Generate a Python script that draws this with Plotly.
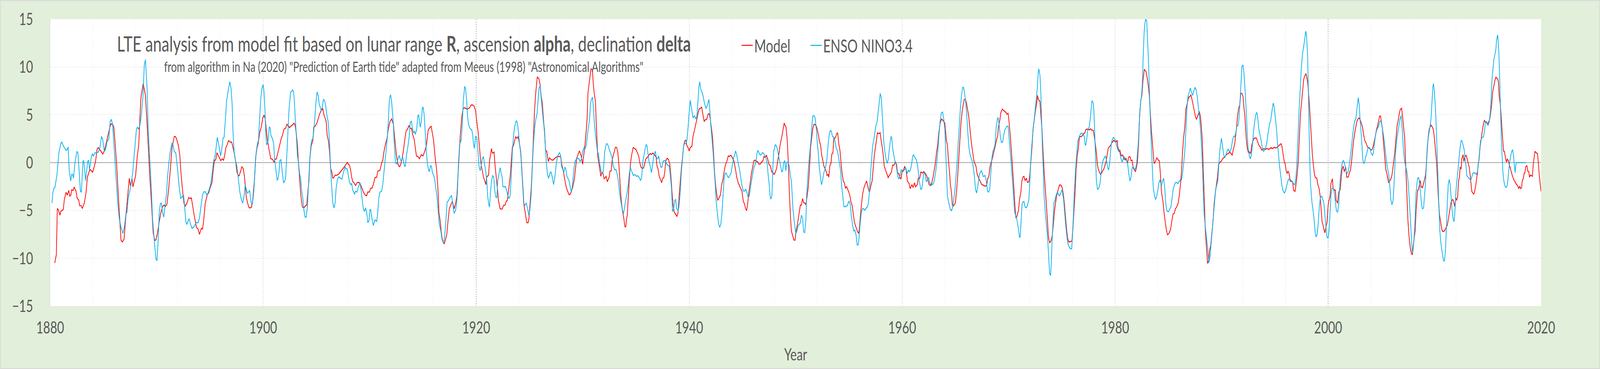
import plotly.graph_objects as go

# ---- data: (year, value) ----
model_pts = [
(1880.43,-10.5),(1880.58,-9.6),(1880.67,-4.8),(1880.76,-4.9),(1880.92,-5.5),(1880.99,-5.1),(1881.23,-4.9),(1881.33,-3.86),
(1881.49,-3.1),(1881.6,-3.4),(1881.75,-2.9),(1881.83,-3.5),(1881.94,-3.4),(1882.01,-2.85),(1882.17,-2.9),(1882.25,-2.55),
(1882.43,-3.0),(1882.53,-3.7),(1882.69,-3.95),(1882.76,-4.5),(1882.9,-4.5),(1883.02,-4.8),(1883.21,-4.2),(1883.36,-3.2),
(1883.5,-1.5),(1883.73,-0.7),(1883.99,-1.0),(1884.15,-0.37),(1884.27,0.2),(1884.4,1.38),(1884.51,1.57),(1884.67,1.34),
(1884.82,1.09),(1884.95,0.9),(1885.08,1.22),(1885.29,2.15),(1885.6,3.7),(1885.71,4.05),(1885.86,4.0),(1885.97,3.74),
(1886.1,1.96),(1886.25,-0.37),(1886.44,-4.24),(1886.65,-8.12),(1886.77,-8.3),(1886.94,-8.0),(1887.06,-6.2),(1887.25,-3.86),
(1887.43,-1.63),(1887.53,-2.4),(1887.69,-1.72),(1887.77,-2.54),(1888.02,-1.38),(1888.19,0.8),(1888.31,1.76),(1888.42,4.48),
(1888.52,6.8),(1888.73,8.26),(1888.94,7.1),(1889.15,3.12),(1889.35,-1.34),(1889.51,-4.24),(1889.67,-7.34),(1889.82,-8.12),
(1889.93,-8.1),(1890.08,-7.34),(1890.24,-6.18),(1890.4,-5.2),(1890.55,-4.6),(1890.69,-4.44),(1890.81,-4.6),(1890.97,-4.34),
(1891.13,-2.7),(1891.28,-0.76),(1891.44,1.57),(1891.65,2.73),(1891.75,2.73),(1891.85,2.54),(1892.04,1.76),(1892.17,0.8),
(1892.27,-0.95),(1892.43,-2.9),(1892.56,-4.24),(1892.69,-4.54),(1892.84,-4.24),(1893.0,-3.66),(1893.16,-3.76),(1893.26,-3.7),
(1893.36,-4.44),(1893.52,-5.5),(1893.73,-6.76),(1893.89,-6.96),(1894.02,-7.5),(1894.2,-6.86),(1894.3,-6.96),(1894.4,-6.18),
(1894.56,-4.24),(1894.77,-3.28),(1894.87,-3.2),(1895.03,-2.6),(1895.19,-2.1),(1895.29,-0.95),(1895.42,0.21),(1895.55,0.31),
(1895.66,1.03),(1895.81,0.7),(1896.02,0.2),(1896.15,0.4),(1896.28,0.25),(1896.39,0.8),(1896.5,1.57),(1896.6,1.8),
(1896.75,2.3),(1896.91,2.15),(1897.04,2.15),(1897.17,1.57),(1897.32,0.8),(1897.43,0.02),(1897.53,-0.95),(1897.64,-1.34),
(1897.74,-1.38),(1897.84,-1.05),(1898.0,-0.43),(1898.13,-0.66),(1898.23,-1.34),(1898.31,-2.3),(1898.42,-3.66),(1898.54,-4.24),
(1898.68,-4.73),(1898.78,-4.73),(1898.89,-4.67),(1898.99,-4.24),(1899.09,-2.9),(1899.2,-1.53),(1899.3,0.6),(1899.41,1.47),
(1899.54,2.05),(1899.67,3.12),(1899.82,3.7),(1899.96,4.67),(1900.08,4.96),(1900.19,4.57),(1900.29,3.5),(1900.4,2.34),
(1900.55,1.38),(1900.71,0.4),(1900.86,0.37),(1901.02,0.06),(1901.13,0.37),(1901.23,0.37),(1901.39,1.08),(1901.54,1.76),
(1901.7,2.54),(1901.8,2.83),(1901.96,3.5),(1902.11,3.6),(1902.22,4.0),(1902.35,3.86),(1902.48,3.64),(1902.58,3.8),
(1902.71,3.9),(1902.9,4.13),(1903.0,3.9),(1903.1,3.12),(1903.21,1.96),(1903.31,0.02),(1903.42,-1.72),(1903.54,-3.47),
(1903.68,-4.63),(1903.83,-4.73),(1903.99,-4.48),(1904.09,-4.44),(1904.2,-2.98),(1904.3,-1.92),(1904.38,0.4),(1904.51,1.76),
(1904.67,2.34),(1904.75,3.7),(1904.88,3.8),(1905.03,4.09),(1905.19,4.67),(1905.29,5.06),(1905.45,5.45),(1905.6,5.64),
(1905.71,4.96),(1905.81,4.67),(1905.92,4.28),(1906.0,2.93),(1906.13,2.25),(1906.23,1.18),(1906.33,-0.56),(1906.44,-0.95),
(1906.54,-1.63),(1906.65,-1.53),(1906.75,-1.3),(1906.88,-1.34),(1907.04,-1.24),(1907.17,-1.1),(1907.27,-0.95),(1907.38,-0.8),
(1907.53,-0.56),(1907.67,-0.37),(1907.79,-0.17),(1907.9,0.02),(1908.0,-0.17),(1908.1,-0.27),(1908.21,-0.76),(1908.31,-1.53),
(1908.42,-2.0),(1908.52,-2.1),(1908.68,-2.4),(1908.81,-2.1),(1908.96,-2.07),(1909.09,-2.15),(1909.25,-2.6),(1909.41,-3.08),
(1909.56,-3.37),(1909.72,-3.47),(1909.82,-3.08),(1909.98,-3.08),(1910.08,-2.7),(1910.23,-2.66),(1910.34,-2.3),(1910.5,-1.57),
(1910.66,-1.53),(1910.76,-0.9),(1910.97,-0.8),(1911.13,0.02),(1911.23,0.21),(1911.33,1.08),(1911.49,1.96),(1911.63,2.54),
(1911.75,3.5),(1911.9,4.28),(1912.06,4.57),(1912.23,4.0),(1912.35,2.54),(1912.51,0.8),(1912.65,-0.17),(1912.79,-0.43),
(1912.9,-0.27),(1913.04,0.4),(1913.17,1.28),(1913.29,2.34),(1913.42,3.3),(1913.55,3.5),(1913.69,3.86),(1913.81,3.6),
(1913.94,3.55),(1914.04,2.93),(1914.18,2.44),(1914.28,1.57),(1914.39,0.7),(1914.56,0.6),(1914.67,0.4),(1914.85,0.83),
(1915.01,0.7),(1915.17,1.18),(1915.32,1.76),(1915.5,3.41),(1915.64,3.66),(1915.77,3.8),(1915.9,2.93),(1916.0,2.34),
(1916.16,0.4),(1916.29,-0.76),(1916.42,-2.9),(1916.5,-5.2),(1916.63,-6.18),(1916.73,-7.34),(1916.85,-8.2),(1916.99,-8.5),
(1917.13,-8.0),(1917.25,-7.44),(1917.35,-6.18),(1917.48,-4.83),(1917.61,-4.44),(1917.77,-4.05),(1917.93,-4.83),(1918.08,-4.24),
(1918.19,-3.47),(1918.31,-0.95),(1918.5,2.73),(1918.66,4.86),(1918.79,5.68),(1918.92,5.74),(1919.13,5.6),(1919.26,5.64),
(1919.39,5.74),(1919.52,6.03),(1919.67,6.03),(1919.8,5.93),(1919.94,5.45),(1920.06,4.28),(1920.17,3.3),(1920.29,1.96),
(1920.38,0.7),(1920.48,-0.37),(1920.58,-0.85),(1920.69,-1.53),(1920.81,-1.92),(1920.92,-2.3),(1920.98,-1.53),(1921.16,-1.3),
(1921.26,0.21),(1921.36,0.99),(1921.44,1.47),(1921.52,0.99),(1921.68,1.09),(1921.78,-0.37),(1921.89,-1.53),(1921.99,-2.7),
(1922.09,-3.95),(1922.25,-4.83),(1922.35,-4.86),(1922.46,-4.83),(1922.56,-4.48),(1922.72,-4.44),(1922.82,-4.05),(1922.93,-3.95),
(1923.03,-3.0),(1923.19,-1.53),(1923.29,0.02),(1923.4,1.67),(1923.5,1.76),(1923.6,2.25),(1923.71,2.73),(1923.81,2.54),
(1923.94,2.7),(1924.07,1.96),(1924.18,1.18),(1924.28,-0.56),(1924.39,-2.7),(1924.49,-4.44),(1924.63,-5.4),(1924.75,-6.28),
(1924.88,-6.28),(1924.96,-5.8),(1925.06,-4.24),(1925.17,-2.7),(1925.27,-0.37),(1925.38,2.54),(1925.48,5.45),(1925.6,7.38),
(1925.74,8.97),(1925.9,8.74),(1926.0,8.16),(1926.1,7.0),(1926.21,6.22),(1926.31,4.67),(1926.42,3.12),(1926.52,1.28),
(1926.63,1.18),(1926.78,0.12),(1926.89,0.5),(1927.04,0.31),(1927.2,0.25),(1927.35,0.4),(1927.51,0.56),(1927.67,0.64),
(1927.93,0.64),(1928.04,-0.2),(1928.18,-0.85),(1928.28,-1.53),(1928.44,-2.5),(1928.59,-3.0),(1928.73,-3.37),(1928.85,-3.28),
(1929.06,-2.6),(1929.22,-1.72),(1929.32,-0.76),(1929.43,0.4),(1929.58,0.9),(1929.69,1.22),(1929.81,0.9),(1929.9,0.5),
(1930.0,-0.17),(1930.1,0.8),(1930.23,1.96),(1930.33,3.3),(1930.42,4.67),(1930.5,7.3),(1930.6,8.26),(1930.71,9.3),
(1930.78,9.8),(1930.92,9.7),(1930.99,8.35),(1931.09,7.2),(1931.2,6.41),(1931.3,3.5),(1931.41,0.8),(1931.51,0.02),
(1931.61,-0.66),(1931.7,-1.43),(1931.8,-1.05),(1931.89,-1.05),(1932.01,-1.69),(1932.11,-1.57),(1932.2,-1.43),(1932.31,-2.0),
(1932.41,-1.72),(1932.5,-1.49),(1932.56,-0.9),(1932.69,-0.85),(1932.76,0.21),(1932.86,0.7),(1932.99,1.22),(1933.07,1.6),
(1933.2,1.57),(1933.31,0.99),(1933.41,-0.37),(1933.5,-1.92),(1933.6,-3.66),(1933.73,-5.02),(1933.86,-5.8),(1933.97,-6.7),
(1934.05,-6.7),(1934.11,-5.99),(1934.19,-5.5),(1934.27,-3.86),(1934.38,-1.72),(1934.5,0.02),(1934.6,0.8),(1934.74,1.57),
(1934.9,1.47),(1935.02,1.34),(1935.16,0.99),(1935.26,0.7),(1935.36,0.02),(1935.47,-0.47),(1935.6,-0.6),(1935.72,-0.56),
(1935.83,-0.08),(1935.94,0.4),(1936.09,0.56),(1936.23,0.8),(1936.35,0.95),(1936.47,0.85),(1936.58,0.99),(1936.69,0.9),
(1936.79,0.76),(1936.9,0.56),(1936.98,-0.37),(1937.08,-0.66),(1937.19,-1.43),(1937.29,-1.72),(1937.42,-2.1),(1937.5,-1.69),
(1937.63,-1.53),(1937.71,-0.95),(1937.81,0.21),(1937.94,0.45),(1938.07,0.31),(1938.18,-0.17),(1938.28,-1.34),(1938.39,-3.08),
(1938.49,-4.44),(1938.6,-5.2),(1938.73,-5.4),(1938.85,-5.64),(1938.96,-5.2),(1939.06,-3.47),(1939.17,-1.92),(1939.27,-0.56),
(1939.38,0.6),(1939.48,1.76),(1939.58,2.25),(1939.69,2.34),(1939.79,1.76),(1939.9,1.57),(1940.0,1.22),(1940.1,1.57),
(1940.26,1.72),(1940.36,2.73),(1940.5,3.41),(1940.6,3.9),(1940.73,4.57),(1940.83,5.15),(1940.94,5.64),(1941.04,5.64),
(1941.17,5.83),(1941.3,4.96),(1941.41,4.28),(1941.51,4.48),(1941.65,4.52),(1941.77,5.06),(1941.9,5.1),(1941.98,4.57),
(1942.08,3.7),(1942.19,2.73),(1942.29,0.99),(1942.38,-0.95),(1942.48,-2.3),(1942.58,-3.28),(1942.69,-3.95),(1942.81,-3.66),
(1942.94,-3.37),(1943.04,-2.4),(1943.18,-1.72),(1943.31,-0.76),(1943.42,-0.17),(1943.54,0.12),(1943.67,0.7),(1943.78,0.65),
(1943.91,0.76),(1944.04,0.56),(1944.21,0.12),(1944.36,-0.76),(1944.47,-1.53),(1944.6,-2.11),(1944.73,-2.4),(1944.83,-2.7),
(1944.94,-2.9),(1945.09,-4.05),(1945.2,-4.34),(1945.3,-4.83),(1945.4,-5.02),(1945.5,-4.24),(1945.61,-3.08),(1945.71,-2.31),
(1945.82,-1.34),(1945.93,-0.66),(1946.08,0.21),(1946.21,0.25),(1946.34,0.12),(1946.45,0.06),(1946.55,-0.17),(1946.69,-0.14),
(1946.81,0.06),(1946.94,0.21),(1947.02,0.64),(1947.15,0.56),(1947.26,0.76),(1947.39,0.31),(1947.49,-0.17),(1947.63,-0.37),
(1947.75,-0.95),(1947.88,-1.05),(1947.96,-1.24),(1948.08,-1.05),(1948.22,-0.56),(1948.32,0.21),(1948.43,0.9),(1948.53,1.76),
(1948.67,2.54),(1948.77,3.12),(1948.85,3.7),(1948.92,4.13),(1949.0,3.9),(1949.1,3.7),(1949.21,2.34),(1949.31,0.02),
(1949.42,-3.47),(1949.52,-5.8),(1949.6,-7.15),(1949.73,-7.64),(1949.83,-8.08),(1949.94,-8.12),(1950.04,-7.15),(1950.15,-6.57),
(1950.25,-5.8),(1950.33,-5.2),(1950.44,-4.44),(1950.54,-4.44),(1950.65,-3.76),(1950.75,-4.2),(1950.88,-4.24),(1950.96,-4.4),
(1951.06,-3.66),(1951.19,-2.5),(1951.29,-0.76),(1951.4,1.57),(1951.52,2.73),(1951.6,3.5),(1951.71,4.0),(1951.81,4.0),
(1951.94,3.8),(1952.02,3.5),(1952.13,2.93),(1952.23,2.25),(1952.35,1.76),(1952.44,0.8),(1952.54,0.31),(1952.65,-0.37),
(1952.77,-0.66),(1952.88,-0.95),(1952.94,-1.34),(1953.04,-1.24),(1953.11,-1.53),(1953.22,-0.27),(1953.32,-0.08),(1953.4,0.9),
(1953.5,1.03),(1953.58,2.54),(1953.68,2.54),(1953.77,2.73),(1953.88,3.08),(1953.95,3.08),(1954.05,1.96),(1954.16,1.28),
(1954.26,0.02),(1954.36,-1.14),(1954.47,-1.92),(1954.57,-2.11),(1954.68,-2.7),(1954.78,-2.5),(1954.89,-2.8),(1954.99,-3.08),
(1955.09,-3.47),(1955.2,-4.15),(1955.3,-4.44),(1955.41,-5.4),(1955.51,-6.18),(1955.61,-6.57),(1955.72,-6.96),(1955.82,-7.25),
(1955.9,-7.38),(1955.98,-6.96),(1956.08,-5.6),(1956.19,-4.24),(1956.29,-3.28),(1956.42,-2.6),(1956.52,-2.3),(1956.66,-1.92),
(1956.76,-2.4),(1956.86,-2.9),(1956.94,-3.08),(1957.04,-2.5),(1957.18,-1.92),(1957.28,-0.56),(1957.39,0.8),(1957.49,1.57),
(1957.59,2.34),(1957.68,3.12),(1957.8,3.02),(1957.94,3.12),(1958.01,2.44),(1958.11,1.76),(1958.22,0.8),(1958.32,-0.37),
(1958.46,-0.85),(1958.58,-1.24),(1958.69,-1.57),(1958.79,-1.34),(1958.92,-1.14),(1959.0,-0.95),(1959.1,-0.27),(1959.23,-0.27),
(1959.36,0.06),(1959.47,-0.17),(1959.57,-1.1),(1959.68,-1.14),(1959.78,-1.53),(1959.89,-1.72),(1959.99,-0.9),(1960.1,-0.91),
(1960.23,-0.41),(1960.36,-0.66),(1960.5,-1.96),(1960.65,-2.17),(1960.75,-2.73),(1960.92,-2.3),(1961.02,-2.6),(1961.17,-2.11),
(1961.25,-2.54),(1961.44,-2.27),(1961.51,-1.63),(1961.65,-1.63),(1961.75,-0.99),(1961.93,-1.1),(1962.03,-0.95),(1962.19,-1.14),
(1962.34,-1.49),(1962.45,-1.92),(1962.52,-2.27),(1962.66,-2.4),(1962.76,-2.21),(1962.9,-1.53),(1963.02,-0.76),(1963.13,0.02),
(1963.23,1.08),(1963.33,1.76),(1963.44,3.12),(1963.56,4.09),(1963.7,4.57),(1963.85,4.38),(1964.01,4.13),(1964.15,2.34),
(1964.25,1.86),(1964.35,0.21),(1964.46,-1.14),(1964.53,-2.31),(1964.64,-3.18),(1964.71,-4.44),(1964.79,-4.54),(1964.9,-4.4),
(1965.0,-4.2),(1965.1,-3.08),(1965.21,-1.53),(1965.31,0.4),(1965.42,2.34),(1965.52,4.09),(1965.63,5.25),(1965.73,6.03),
(1965.83,6.6),(1965.94,6.64),(1966.04,6.22),(1966.15,5.45),(1966.25,4.86),(1966.35,3.7),(1966.51,1.96),(1966.61,1.18),
(1966.75,0.12),(1966.93,-0.37),(1967.03,-1.14),(1967.19,-1.63),(1967.31,-1.92),(1967.48,-2.31),(1967.6,-2.34),(1967.76,-2.46),
(1967.94,-2.4),(1968.02,-1.72),(1968.13,-1.49),(1968.25,-0.47),(1968.35,0.02),(1968.46,0.4),(1968.63,1.22),(1968.75,1.76),
(1968.85,2.34),(1968.96,2.73),(1969.04,3.7),(1969.17,4.44),(1969.27,5.25),(1969.4,5.6),(1969.53,5.45),(1969.64,5.35),
(1969.77,5.21),(1969.84,5.06),(1969.95,5.15),(1970.02,4.48),(1970.16,2.73),(1970.26,1.18),(1970.36,-0.37),(1970.47,-2.31),
(1970.57,-4.24),(1970.68,-5.8),(1970.78,-5.6),(1970.92,-5.02),(1971.02,-3.86),(1971.15,-3.08),(1971.23,-2.0),(1971.33,-1.53),
(1971.44,-1.43),(1971.54,-1.88),(1971.67,-1.63),(1971.77,-2.07),(1971.9,-2.0),(1971.98,-1.34),(1972.08,0.02),(1972.19,1.57),
(1972.29,3.5),(1972.4,4.48),(1972.52,5.45),(1972.63,6.22),(1972.71,7.03),(1972.79,6.6),(1972.94,6.41),(1973.02,5.06),
(1973.13,3.5),(1973.23,1.18),(1973.33,-0.95),(1973.44,-2.7),(1973.54,-4.24),(1973.65,-6.18),(1973.73,-7.73),(1973.85,-8.41),
(1973.96,-8.2),(1974.08,-7.73),(1974.19,-6.57),(1974.29,-5.2),(1974.4,-4.24),(1974.5,-3.47),(1974.64,-2.9),(1974.77,-2.34),
(1974.92,-2.36),(1975.02,-2.6),(1975.13,-3.28),(1975.23,-4.24),(1975.33,-5.6),(1975.44,-6.96),(1975.54,-7.93),(1975.65,-8.31),
(1975.78,-8.27),(1975.94,-8.2),(1976.02,-7.15),(1976.12,-5.4),(1976.23,-3.28),(1976.33,-0.76),(1976.44,0.7),(1976.54,1.47),
(1976.65,2.73),(1976.75,2.7),(1976.89,2.77),(1977.03,3.02),(1977.17,3.12),(1977.24,3.45),(1977.38,3.5),(1977.48,3.5),
(1977.58,3.41),(1977.69,3.55),(1977.79,3.41),(1977.95,3.35),(1978.03,2.83),(1978.14,1.96),(1978.24,0.99),(1978.34,-0.27),
(1978.42,-0.66),(1978.52,-0.99),(1978.63,-1.24),(1978.73,-1.1),(1978.83,-0.85),(1978.94,-0.66),(1979.04,-0.27),(1979.15,0.12),
(1979.25,0.8),(1979.35,1.47),(1979.46,1.67),(1979.56,1.76),(1979.67,2.05),(1979.77,2.19),(1979.88,2.34),(1979.98,2.19),
(1980.08,2.15),(1980.19,2.34),(1980.26,1.57),(1980.34,1.18),(1980.45,1.28),(1980.57,0.7),(1980.71,0.8),(1980.81,0.4),
(1980.95,0.31),(1981.02,0.45),(1981.16,-0.08),(1981.26,0.56),(1981.39,0.64),(1981.49,0.21),(1981.59,0.25),(1981.7,-0.56),
(1981.8,-0.76),(1981.91,-0.95),(1981.99,-0.56),(1982.09,0.02),(1982.2,1.96),(1982.3,5.06),(1982.41,6.51),(1982.51,7.0),
(1982.61,8.55),(1982.69,9.42),(1982.74,9.75),(1982.9,9.52),(1983.0,8.93),(1983.1,8.16),(1983.21,7.0),(1983.31,5.06),
(1983.42,3.12),(1983.52,1.76),(1983.66,-0.08),(1983.76,0.06),(1983.91,0.5),(1984.01,0.31),(1984.15,0.17),(1984.25,-1.14),
(1984.35,-3.08),(1984.49,-4.05),(1984.59,-5.2),(1984.7,-6.18),(1984.8,-6.96),(1984.91,-7.54),(1985.03,-7.44),(1985.19,-7.05),
(1985.29,-6.37),(1985.43,-5.4),(1985.55,-5.3),(1985.66,-4.83),(1985.76,-4.67),(1985.92,-4.24),(1986.02,-3.47),(1986.13,-2.31),
(1986.23,-0.95),(1986.33,1.18),(1986.44,2.73),(1986.54,3.7),(1986.65,5.64),(1986.78,6.22),(1986.91,6.84),(1987.01,6.9),
(1987.11,7.09),(1987.22,6.6),(1987.32,6.03),(1987.43,5.45),(1987.53,4.86),(1987.64,4.52),(1987.74,4.86),(1987.84,5.15),
(1987.9,5.35),(1988.0,4.86),(1988.1,3.7),(1988.18,2.34),(1988.26,-0.37),(1988.36,-3.86),(1988.47,-7.15),(1988.59,-9.09),
(1988.68,-10.54),(1988.78,-10.29),(1988.86,-9.19),(1988.97,-8.7),(1989.09,-7.34),(1989.2,-5.99),(1989.3,-4.24),(1989.41,-3.08),
(1989.51,-2.31),(1989.61,-1.53),(1989.72,-0.17),(1989.84,0.02),(1989.98,0.17),(1990.08,0.4),(1990.19,0.5),(1990.29,0.56),
(1990.43,0.83),(1990.55,0.9),(1990.66,0.99),(1990.76,1.09),(1990.89,0.95),(1990.99,0.76),(1991.1,1.38),(1991.23,1.96),
(1991.3,2.73),(1991.39,3.5),(1991.49,4.86),(1991.59,5.64),(1991.7,6.03),(1991.8,7.23),(1991.91,7.23),(1992.01,6.9),
(1992.08,5.83),(1992.17,5.06),(1992.24,3.9),(1992.31,2.54),(1992.4,1.57),(1992.5,1.09),(1992.6,1.14),(1992.69,0.95),
(1992.76,1.18),(1992.83,1.86),(1992.94,2.25),(1993.04,2.54),(1993.18,2.58),(1993.28,2.54),(1993.39,2.15),(1993.49,1.86),
(1993.65,1.57),(1993.75,1.34),(1993.85,1.34),(1993.96,1.47),(1994.06,1.38),(1994.27,1.47),(1994.43,1.38),(1994.64,1.57),
(1994.79,1.47),(1994.95,1.6),(1995.08,1.53),(1995.21,1.6),(1995.36,1.76),(1995.5,1.92),(1995.6,1.96),(1995.68,1.57),
(1995.78,0.8),(1995.89,0.02),(1995.96,-0.08),(1996.06,-0.85),(1996.15,-1.14),(1996.23,-0.91),(1996.33,-1.1),(1996.44,-1.92),
(1996.54,-1.96),(1996.67,-2.0),(1996.75,-2.9),(1996.9,-3.0),(1996.98,-2.31),(1997.08,-1.34),(1997.19,0.02),(1997.29,2.54),
(1997.4,5.06),(1997.5,6.22),(1997.6,7.38),(1997.71,8.74),(1997.81,9.09),(1997.92,9.28),(1998.0,8.93),(1998.1,8.16),
(1998.21,6.6),(1998.31,4.86),(1998.42,2.73),(1998.52,0.8),(1998.63,-0.37),(1998.7,-1.14),(1998.8,-1.57),(1998.94,-1.63),
(1999.04,-2.31),(1999.15,-2.7),(1999.25,-3.47),(1999.32,-4.44),(1999.43,-6.18),(1999.53,-6.57),(1999.6,-6.96),(1999.69,-7.34),
(1999.79,-6.76),(1999.9,-6.18),(2000.0,-4.44),(2000.08,-3.95),(2000.19,-3.47),(2000.26,-2.21),(2000.4,-1.69),(2000.47,-2.7),
(2000.6,-2.9),(2000.68,-2.87),(2000.75,-3.95),(2000.89,-4.24),(2000.99,-3.08),(2001.13,-2.85),(2001.2,-1.92),(2001.3,-0.76),
(2001.41,-0.37),(2001.51,-0.95),(2001.65,-0.47),(2001.75,-1.53),(2001.9,-1.49),(2002.0,-1.05),(2002.1,-0.76),(2002.19,0.02),
(2002.29,1.18),(2002.4,2.34),(2002.5,3.12),(2002.6,3.7),(2002.69,4.28),(2002.81,4.57),(2002.92,4.67),(2003.04,4.38),
(2003.13,4.05),(2003.23,3.7),(2003.33,2.93),(2003.44,2.3),(2003.54,2.11),(2003.65,1.76),(2003.75,1.57),(2003.85,1.53),
(2003.98,1.34),(2004.11,1.34),(2004.22,1.67),(2004.32,2.15),(2004.43,2.73),(2004.53,3.41),(2004.64,3.8),(2004.74,4.38),
(2004.84,4.86),(2004.92,4.86),(2005.0,4.28),(2005.1,3.5),(2005.21,1.96),(2005.31,0.6),(2005.42,-0.76),(2005.52,-1.14),
(2005.68,-2.11),(2005.78,-1.92),(2005.89,-1.72),(2005.99,-1.34),(2006.06,-0.76),(2006.17,0.21),(2006.27,1.18),(2006.38,2.54),
(2006.48,3.9),(2006.56,4.28),(2006.67,5.06),(2006.77,5.54),(2006.9,5.68),(2007.0,4.67),(2007.08,3.7),(2007.19,2.54),
(2007.27,0.02),(2007.34,-1.92),(2007.42,-4.05),(2007.5,-6.18),(2007.6,-7.73),(2007.71,-8.9),(2007.81,-9.48),(2007.92,-9.63),
(2007.99,-8.7),(2008.08,-7.93),(2008.17,-7.15),(2008.25,-5.2),(2008.34,-3.86),(2008.4,-2.89),(2008.47,-2.85),(2008.56,-2.31),
(2008.65,-1.88),(2008.74,-2.54),(2008.82,-2.54),(2008.86,-2.66),(2008.96,-2.21),(2009.05,-1.76),(2009.14,-1.34),(2009.23,-0.17),
(2009.32,1.57),(2009.4,2.73),(2009.49,3.5),(2009.66,3.93),(2009.79,3.7),(2009.89,3.41),(2009.98,2.54),(2010.07,1.38),
(2010.16,0.4),(2010.25,-1.34),(2010.33,-3.28),(2010.45,-5.4),(2010.56,-6.18),(2010.67,-6.96),(2010.75,-7.19),(2010.88,-7.19),
(2010.97,-7.05),(2011.09,-6.76),(2011.19,-6.53),(2011.28,-5.99),(2011.37,-5.31),(2011.46,-4.63),(2011.54,-4.15),(2011.68,-3.86),
(2011.76,-3.95),(2011.89,-4.59),(2011.98,-3.66),(2012.07,-3.95),(2012.16,-3.57),(2012.25,-1.92),(2012.33,-1.53),(2012.4,-0.47),
(2012.49,-0.66),(2012.55,0.4),(2012.67,0.83),(2012.75,0.12),(2012.84,0.64),(2012.96,0.76),(2013.08,0.31),(2013.17,-0.17),
(2013.25,-0.47),(2013.34,-1.34),(2013.43,-2.31),(2013.49,-3.0),(2013.58,-3.18),(2013.69,-3.28),(2013.78,-2.89),(2013.87,-2.31),
(2013.96,-1.53),(2014.02,-1.14),(2014.09,-0.17),(2014.18,0.4),(2014.26,1.57),(2014.35,2.34),(2014.44,3.02),(2014.53,3.7),
(2014.61,4.19),(2014.68,4.44),(2014.79,4.19),(2014.88,4.19),(2014.96,4.05),(2015.05,4.19),(2015.18,4.57),(2015.27,5.25),
(2015.36,6.12),(2015.45,7.38),(2015.58,8.16),(2015.67,8.64),(2015.75,8.93),(2015.84,8.84),(2015.93,8.74),(2016.0,8.35),
(2016.06,7.0),(2016.15,6.22),(2016.24,5.06),(2016.32,3.5),(2016.41,2.15),(2016.47,1.22),(2016.56,1.14),(2016.65,0.5),
(2016.74,0.06),(2016.82,0.37),(2016.91,0.21),(2017.03,-0.27),(2017.16,-0.76),(2017.29,-1.34),(2017.42,-1.76),(2017.55,-2.0),
(2017.68,-2.27),(2017.79,-2.4),(2017.9,-2.73),(2017.99,-2.46),(2018.08,-2.73),(2018.17,-2.6),(2018.23,-1.88),(2018.32,-1.69),
(2018.4,-1.14),(2018.47,-1.1),(2018.56,-0.41),(2018.67,-0.33),(2018.75,-0.91),(2018.84,-0.95),(2018.91,-1.53),(2019.0,-1.3),
(2019.09,-1.38),(2019.18,-1.43),(2019.26,-0.17),(2019.33,0.5),(2019.42,1.18),(2019.53,1.03),(2019.66,0.95),(2019.75,-0.17),
(2019.83,-1.34),(2019.92,-2.31),(2019.99,-3.0),
]

enso_pts = [
(1880.17,-4.24),(1880.24,-3.2),(1880.34,-2.7),(1880.44,-2.6),(1880.55,-1.9),(1880.66,-1.05),(1880.81,1.0),(1881.02,2.05),
(1881.1,2.15),(1881.23,1.76),(1881.39,1.47),(1881.49,1.28),(1881.6,1.38),(1881.68,1.63),(1881.8,-0.95),(1881.93,-1.92),
(1882.01,-1.24),(1882.11,-1.24),(1882.19,-1.63),(1882.32,-0.08),(1882.5,1.14),(1882.6,1.08),(1882.69,-0.37),(1882.84,-3.0),
(1882.93,-3.08),(1883.08,0.17),(1883.16,0.17),(1883.33,-1.88),(1883.52,0.12),(1883.6,0.25),(1883.7,-0.72),(1883.86,0.56),
(1883.96,0.93),(1884.06,0.7),(1884.2,1.03),(1884.35,0.99),(1884.54,1.14),(1884.67,1.57),(1884.82,2.73),(1884.93,2.44),
(1885.08,1.18),(1885.19,1.34),(1885.34,2.19),(1885.5,2.44),(1885.63,4.28),(1885.74,4.52),(1885.86,4.0),(1886.02,1.18),
(1886.18,-1.34),(1886.33,-4.05),(1886.49,-5.9),(1886.65,-6.76),(1886.83,-7.4),(1886.96,-6.76),(1887.11,-5.4),(1887.21,-5.2),
(1887.32,-3.76),(1887.53,-2.7),(1887.74,-1.14),(1887.9,1.0),(1888.02,2.54),(1888.1,3.5),(1888.19,3.7),(1888.29,3.5),
(1888.42,3.9),(1888.57,5.06),(1888.73,7.2),(1888.83,10.1),(1888.94,10.77),(1889.02,9.3),(1889.1,7.77),(1889.2,3.5),
(1889.35,0.4),(1889.48,-2.3),(1889.61,-5.8),(1889.77,-8.12),(1889.93,-10.06),(1890.03,-10.25),(1890.14,-8.12),(1890.24,-5.2),
(1890.34,-4.34),(1890.44,-4.2),(1890.55,-5.2),(1890.66,-5.7),(1890.76,-4.8),(1890.92,-3.28),(1891.02,-1.53),(1891.15,0.02),
(1891.28,1.18),(1891.42,2.0),(1891.52,1.92),(1891.65,1.18),(1891.8,0.99),(1891.9,0.02),(1892.0,-1.14),(1892.11,-2.5),
(1892.25,-3.76),(1892.38,-3.57),(1892.53,-3.47),(1892.6,-4.24),(1892.74,-6.18),(1892.84,-6.47),(1892.95,-6.08),(1893.05,-5.9),
(1893.16,-6.37),(1893.31,-6.86),(1893.47,-6.76),(1893.57,-6.57),(1893.73,-6.28),(1893.89,-6.28),(1894.02,-5.8),(1894.15,-4.63),
(1894.3,-3.47),(1894.4,-3.08),(1894.56,-3.04),(1894.72,-3.37),(1894.82,-3.18),(1894.96,-2.7),(1895.08,-2.2),(1895.19,-1.34),
(1895.34,0.12),(1895.5,0.8),(1895.69,2.64),(1895.81,2.0),(1895.92,1.18),(1896.0,0.7),(1896.1,1.28),(1896.23,2.54),
(1896.33,2.64),(1896.44,4.28),(1896.56,6.41),(1896.69,7.38),(1896.87,8.45),(1896.98,7.8),(1897.08,6.22),(1897.17,3.12),
(1897.27,1.18),(1897.38,0.31),(1897.53,-0.37),(1897.69,-1.92),(1897.81,-3.08),(1897.95,-3.86),(1898.08,-4.24),(1898.21,-3.47),
(1898.31,-2.3),(1898.42,-2.8),(1898.52,-3.18),(1898.63,-3.08),(1898.73,-2.9),(1898.83,-3.86),(1898.92,-4.44),(1899.02,-4.05),
(1899.13,-2.9),(1899.25,-0.37),(1899.35,1.18),(1899.46,1.96),(1899.56,2.34),(1899.67,4.67),(1899.77,6.6),(1899.88,7.77),
(1900.0,8.16),(1900.08,7.38),(1900.17,5.45),(1900.24,3.12),(1900.32,1.86),(1900.45,2.15),(1900.58,3.74),(1900.66,3.6),
(1900.73,2.83),(1900.86,2.54),(1900.99,1.96),(1901.07,0.4),(1901.18,-0.66),(1901.31,-1.82),(1901.39,-1.72),(1901.49,-0.95),
(1901.56,0.21),(1901.67,0.31),(1901.77,-0.76),(1901.91,-2.11),(1902.03,-1.92),(1902.11,-1.53),(1902.22,0.8),(1902.32,3.3),
(1902.43,5.64),(1902.58,7.38),(1902.69,7.48),(1902.77,7.6),(1902.85,7.4),(1902.92,6.6),(1903.0,4.86),(1903.1,3.12),
(1903.21,0.8),(1903.31,0.02),(1903.42,-1.14),(1903.52,-1.72),(1903.63,-3.08),(1903.73,-3.76),(1903.83,-5.02),(1903.94,-5.7),
(1904.04,-5.7),(1904.15,-4.63),(1904.25,-2.3),(1904.38,0.4),(1904.48,1.76),(1904.56,2.34),(1904.65,2.44),(1904.75,3.3),
(1904.85,4.67),(1904.96,6.41),(1905.06,7.38),(1905.17,7.0),(1905.27,6.03),(1905.34,5.87),(1905.45,5.45),(1905.55,5.83),
(1905.66,6.6),(1905.76,6.5),(1905.86,6.0),(1905.97,5.06),(1906.1,4.28),(1906.21,2.54),(1906.31,0.02),(1906.42,-2.3),
(1906.54,-4.24),(1906.65,-4.73),(1906.75,-4.24),(1906.85,-2.7),(1906.98,-1.72),(1907.11,-1.49),(1907.27,-1.63),(1907.4,-1.72),
(1907.53,-1.05),(1907.69,-0.47),(1907.79,-0.66),(1907.9,-0.66),(1908.0,-1.34),(1908.1,-2.0),(1908.21,-2.3),(1908.31,-2.2),
(1908.42,-2.9),(1908.57,-3.28),(1908.68,-3.0),(1908.81,-3.08),(1908.94,-2.54),(1909.09,-2.11),(1909.2,-2.9),(1909.33,-4.05),
(1909.4,-4.83),(1909.51,-5.1),(1909.61,-4.73),(1909.72,-5.2),(1909.82,-6.28),(1909.93,-6.08),(1910.03,-4.92),(1910.1,-4.92),
(1910.21,-5.8),(1910.34,-6.57),(1910.5,-5.99),(1910.66,-6.14),(1910.76,-5.2),(1910.86,-3.66),(1910.97,-3.08),(1911.13,-2.98),
(1911.23,-2.3),(1911.33,-1.14),(1911.44,0.02),(1911.54,1.18),(1911.65,2.54),(1911.75,4.28),(1911.85,6.6),(1911.96,7.1),
(1912.06,6.41),(1912.21,4.28),(1912.31,1.96),(1912.42,0.02),(1912.51,-0.14),(1912.65,0.31),(1912.77,0.76),(1912.88,0.31),
(1912.96,0.17),(1913.1,0.6),(1913.27,-0.37),(1913.35,-0.37),(1913.45,0.7),(1913.6,1.76),(1913.71,2.73),(1913.81,4.19),
(1913.92,4.32),(1914.02,3.5),(1914.13,3.12),(1914.21,3.28),(1914.29,2.96),(1914.42,3.5),(1914.52,4.86),(1914.6,5.02),
(1914.75,3.7),(1914.85,4.28),(1914.94,5.64),(1915.01,5.83),(1915.11,5.06),(1915.22,3.12),(1915.32,1.18),(1915.43,-0.17),
(1915.53,-0.76),(1915.6,-0.95),(1915.71,-0.33),(1915.79,-0.37),(1915.9,-1.05),(1916.0,-1.3),(1916.1,-1.69),(1916.21,-2.7),
(1916.31,-3.47),(1916.42,-4.83),(1916.52,-6.28),(1916.68,-7.15),(1916.81,-8.12),(1916.92,-8.31),(1916.99,-8.12),(1917.1,-6.96),
(1917.2,-5.4),(1917.27,-4.15),(1917.41,-3.95),(1917.54,-3.66),(1917.69,-3.43),(1917.77,-4.05),(1917.93,-5.3),(1918.06,-5.02),
(1918.17,-4.24),(1918.24,-3.08),(1918.34,0.02),(1918.45,1.96),(1918.6,2.38),(1918.71,4.28),(1918.79,6.41),(1918.92,7.96),
(1919.0,7.77),(1919.1,6.6),(1919.19,4.86),(1919.28,4.0),(1919.44,3.55),(1919.59,3.41),(1919.67,2.93),(1919.75,1.96),
(1919.83,1.47),(1919.94,2.73),(1920.06,2.64),(1920.17,1.18),(1920.27,-0.37),(1920.38,-0.85),(1920.48,-0.17),(1920.58,0.4),
(1920.67,0.64),(1920.77,0.02),(1920.9,-0.95),(1921.0,-1.92),(1921.08,-3.47),(1921.19,-4.44),(1921.26,-4.63),(1921.33,-3.28),
(1921.44,-1.92),(1921.54,-1.34),(1921.65,-1.53),(1921.73,-2.7),(1921.83,-3.57),(1921.94,-3.66),(1922.02,-1.92),(1922.13,-1.24),
(1922.25,-0.52),(1922.33,-1.05),(1922.44,-1.53),(1922.51,-2.5),(1922.61,-2.54),(1922.75,-2.5),(1922.88,-3.0),(1922.98,-3.47),
(1923.08,-3.76),(1923.19,-3.47),(1923.29,-1.53),(1923.4,1.18),(1923.5,2.73),(1923.6,3.7),(1923.76,4.38),(1923.86,4.19),
(1923.97,3.22),(1924.07,1.96),(1924.18,0.99),(1924.28,-0.76),(1924.39,-2.9),(1924.46,-4.24),(1924.56,-4.44),(1924.7,-4.24),
(1924.83,-4.83),(1924.94,-5.5),(1925.04,-5.02),(1925.17,-3.28),(1925.27,-0.56),(1925.38,1.96),(1925.48,3.5),(1925.6,4.52),
(1925.71,5.06),(1925.79,6.22),(1925.9,7.77),(1926.0,8.06),(1926.1,6.8),(1926.21,5.45),(1926.31,4.28),(1926.42,3.5),
(1926.5,1.57),(1926.6,-0.17),(1926.71,-1.34),(1926.81,-1.63),(1926.92,-1.14),(1927.02,-0.95),(1927.15,-1.53),(1927.27,-2.3),
(1927.41,-1.34),(1927.51,-0.17),(1927.67,0.76),(1927.83,1.03),(1927.92,0.8),(1928.02,-0.37),(1928.13,-0.76),(1928.23,-1.05),
(1928.33,-0.47),(1928.42,-0.66),(1928.52,-1.43),(1928.65,-1.72),(1928.77,-2.07),(1928.85,-2.7),(1928.94,-3.04),(1929.04,-2.4),
(1929.17,-0.76),(1929.27,0.12),(1929.38,0.31),(1929.5,0.45),(1929.64,0.4),(1929.77,0.12),(1929.9,0.4),(1930.0,1.18),
(1930.13,1.57),(1930.23,1.47),(1930.33,1.76),(1930.42,2.64),(1930.54,3.7),(1930.65,4.48),(1930.73,6.22),(1930.83,6.6),
(1930.92,6.84),(1930.99,6.03),(1931.09,4.28),(1931.2,2.93),(1931.27,2.34),(1931.38,1.18),(1931.48,0.9),(1931.58,0.02),
(1931.69,-0.66),(1931.79,-1.14),(1931.9,-1.1),(1931.98,-0.37),(1932.06,0.99),(1932.17,1.76),(1932.27,2.0),(1932.4,1.76),
(1932.52,1.28),(1932.65,0.9),(1932.76,0.5),(1932.86,-0.27),(1933.0,-0.76),(1933.13,-0.72),(1933.23,-1.14),(1933.35,-1.92),
(1933.46,-3.08),(1933.58,-4.05),(1933.71,-4.83),(1933.82,-5.37),(1933.92,-4.83),(1934.02,-4.05),(1934.15,-3.28),(1934.27,-2.4),
(1934.38,-1.14),(1934.48,-0.52),(1934.62,-0.95),(1934.75,-1.34),(1934.88,-1.24),(1935.05,-1.43),(1935.19,-1.38),(1935.31,-1.57),
(1935.44,-1.88),(1935.54,-1.53),(1935.65,0.12),(1935.75,0.8),(1935.85,1.38),(1935.96,1.86),(1936.04,1.76),(1936.15,0.8),
(1936.25,0.02),(1936.35,-0.37),(1936.46,-1.05),(1936.56,-0.33),(1936.67,0.7),(1936.82,1.18),(1936.93,0.5),(1937.03,0.4),
(1937.14,0.7),(1937.24,0.02),(1937.34,-0.47),(1937.45,-0.47),(1937.55,0.12),(1937.66,0.21),(1937.79,0.17),(1937.9,-0.17),
(1938.0,-0.27),(1938.13,-0.37),(1938.23,-1.34),(1938.34,-2.7),(1938.44,-5.12),(1938.54,-4.83),(1938.65,-3.95),(1938.73,-3.86),
(1938.83,-4.83),(1938.96,-5.02),(1939.04,-4.63),(1939.15,-3.28),(1939.27,-0.95),(1939.38,0.6),(1939.48,1.76),(1939.58,2.05),
(1939.69,1.96),(1939.79,2.34),(1939.9,3.7),(1940.0,5.25),(1940.1,6.51),(1940.23,5.64),(1940.36,4.67),(1940.5,4.9),
(1940.63,4.57),(1940.73,4.9),(1940.83,6.6),(1940.92,7.96),(1940.99,8.45),(1941.09,7.67),(1941.2,7.38),(1941.3,7.0),
(1941.44,6.22),(1941.58,5.64),(1941.72,6.03),(1941.85,6.6),(1941.93,5.64),(1942.03,3.9),(1942.14,2.54),(1942.24,1.18),
(1942.34,-0.56),(1942.45,-2.3),(1942.55,-4.24),(1942.66,-5.4),(1942.76,-6.37),(1942.86,-6.76),(1942.97,-6.47),(1943.07,-5.4),
(1943.18,-3.47),(1943.28,-1.72),(1943.39,-1.14),(1943.49,-1.1),(1943.59,-1.43),(1943.7,-1.57),(1943.8,-1.4),(1943.94,-1.05),
(1944.05,-0.3),(1944.16,0.4),(1944.26,0.8),(1944.36,1.22),(1944.47,0.8),(1944.57,0.12),(1944.68,-0.47),(1944.78,-1.05),
(1944.89,-1.92),(1944.99,-2.6),(1945.1,-2.98),(1945.2,-2.98),(1945.33,-2.79),(1945.44,-3.18),(1945.54,-3.66),(1945.65,-3.47),
(1945.75,-2.7),(1945.85,-1.92),(1945.98,-1.14),(1946.08,-0.52),(1946.21,-0.17),(1946.31,0.4),(1946.37,0.99),(1946.45,1.28),
(1946.55,1.03),(1946.66,0.8),(1946.76,0.83),(1946.86,1.03),(1946.97,0.99),(1947.1,0.76),(1947.23,0.4),(1947.33,-0.17),
(1947.44,-1.53),(1947.52,-2.3),(1947.6,-3.47),(1947.67,-3.82),(1947.77,-3.47),(1947.85,-0.76),(1947.94,1.18),(1948.01,1.57),
(1948.08,1.86),(1948.19,1.76),(1948.29,1.38),(1948.38,0.8),(1948.48,0.31),(1948.58,-0.27),(1948.69,-0.95),(1948.77,-0.91),
(1948.88,0.02),(1948.98,0.21),(1949.08,-0.85),(1949.16,0.02),(1949.29,0.06),(1949.4,-0.37),(1949.5,-1.34),(1949.6,-1.92),
(1949.68,-3.47),(1949.75,-4.83),(1949.85,-5.99),(1949.96,-6.96),(1950.02,-7.44),(1950.13,-7.11),(1950.23,-6.57),(1950.33,-6.47),
(1950.44,-6.28),(1950.54,-5.5),(1950.65,-5.8),(1950.75,-7.25),(1950.85,-7.31),(1950.96,-5.99),(1951.03,-3.47),(1951.14,-1.53),
(1951.24,0.02),(1951.34,1.18),(1951.45,2.54),(1951.55,4.28),(1951.63,4.9),(1951.73,4.9),(1951.83,4.67),(1951.94,3.5),
(1952.04,1.96),(1952.13,0.99),(1952.21,-0.37),(1952.31,-1.34),(1952.42,-2.31),(1952.52,-1.92),(1952.63,-1.14),(1952.73,-0.76),
(1952.83,-0.37),(1952.94,0.4),(1953.04,1.76),(1953.15,2.93),(1953.25,3.35),(1953.35,3.28),(1953.46,2.73),(1953.58,2.64),
(1953.69,2.25),(1953.79,1.57),(1953.9,1.28),(1954.0,0.8),(1954.1,0.02),(1954.21,-0.76),(1954.31,-2.31),(1954.42,-3.47),
(1954.52,-4.54),(1954.63,-4.63),(1954.73,-4.54),(1954.83,-4.54),(1954.94,-4.24),(1955.02,-4.0),(1955.13,-4.44),(1955.23,-5.6),
(1955.35,-6.57),(1955.46,-7.15),(1955.56,-7.05),(1955.67,-7.54),(1955.77,-8.6),(1955.88,-8.6),(1955.96,-7.73),(1956.06,-6.37),
(1956.17,-5.2),(1956.27,-4.83),(1956.4,-4.83),(1956.5,-4.98),(1956.6,-4.79),(1956.73,-4.63),(1956.83,-4.24),(1956.94,-2.9),
(1957.02,-1.34),(1957.13,0.4),(1957.23,1.76),(1957.33,2.34),(1957.44,3.12),(1957.54,3.9),(1957.65,4.28),(1957.75,5.25),
(1957.85,6.22),(1957.94,7.23),(1958.04,6.8),(1958.11,5.45),(1958.19,3.7),(1958.29,1.96),(1958.4,0.99),(1958.5,0.31),
(1958.6,-0.08),(1958.71,0.4),(1958.81,1.57),(1958.95,2.7),(1959.02,2.64),(1959.1,1.57),(1959.21,0.8),(1959.31,0.21),
(1959.4,0.02),(1959.5,-0.76),(1959.6,-1.53),(1959.71,-1.69),(1959.81,-1.34),(1959.88,-0.8),(1960.0,-0.76),(1960.1,-0.9),
(1960.21,-0.76),(1960.33,-0.52),(1960.47,-1.14),(1960.57,-0.8),(1960.68,-0.95),(1960.78,-0.76),(1960.89,-0.17),(1960.99,0.7),
(1961.09,0.8),(1961.2,0.5),(1961.33,0.31),(1961.46,-0.37),(1961.56,-1.53),(1961.67,-2.31),(1961.75,-2.79),(1961.85,-2.73),
(1961.93,-1.92),(1962.0,-1.34),(1962.08,-1.05),(1962.17,-1.24),(1962.27,-2.0),(1962.4,-1.76),(1962.5,-1.57),(1962.6,-2.11),
(1962.71,-2.4),(1962.83,-2.27),(1962.94,-2.21),(1963.04,-1.72),(1963.15,-0.95),(1963.25,0.02),(1963.35,1.18),(1963.46,2.93),
(1963.56,4.28),(1963.67,5.15),(1963.8,5.29),(1963.91,4.48),(1964.01,3.5),(1964.08,1.57),(1964.17,-1.34),(1964.25,-3.47),
(1964.33,-3.95),(1964.43,-4.44),(1964.53,-4.92),(1964.64,-5.02),(1964.74,-4.63),(1964.84,-3.86),(1964.95,-2.9),(1965.05,-1.53),
(1965.16,0.02),(1965.26,1.96),(1965.38,4.28),(1965.49,6.03),(1965.59,7.19),(1965.69,7.87),(1965.76,7.87),(1965.85,7.38),
(1965.96,6.41),(1966.06,5.06),(1966.17,3.12),(1966.27,1.57),(1966.38,0.8),(1966.51,0.4),(1966.61,0.02),(1966.69,-0.56),
(1966.79,-1.53),(1966.88,-2.7),(1966.98,-3.18),(1967.08,-2.7),(1967.19,-1.72),(1967.29,-1.14),(1967.42,-0.85),(1967.52,-1.05),
(1967.6,-1.43),(1967.69,-1.43),(1967.79,-1.34),(1967.9,-1.92),(1968.02,-3.0),(1968.13,-3.08),(1968.23,-2.7),(1968.33,-1.14),
(1968.42,0.4),(1968.52,1.18),(1968.63,1.47),(1968.73,1.96),(1968.83,3.7),(1968.94,4.57),(1969.01,4.71),(1969.11,3.9),
(1969.22,2.73),(1969.32,2.11),(1969.43,2.15),(1969.53,2.83),(1969.64,3.41),(1969.74,3.6),(1969.84,3.8),(1969.95,3.8),
(1970.05,2.54),(1970.16,0.99),(1970.26,-0.37),(1970.36,-1.92),(1970.47,-3.47),(1970.57,-5.2),(1970.68,-5.6),(1970.78,-5.99),
(1970.92,-6.96),(1971.02,-7.83),(1971.09,-7.73),(1971.17,-6.18),(1971.25,-4.44),(1971.33,-4.15),(1971.44,-4.05),(1971.54,-4.63),
(1971.65,-4.73),(1971.77,-4.44),(1971.9,-3.86),(1971.98,-2.31),(1972.05,-0.37),(1972.16,1.57),(1972.27,3.12),(1972.38,4.28),
(1972.48,5.45),(1972.59,6.6),(1972.69,7.77),(1972.77,9.32),(1972.83,9.8),(1972.94,9.13),(1973.02,7.38),(1973.1,4.28),
(1973.17,1.57),(1973.25,-0.76),(1973.33,-3.47),(1973.44,-5.2),(1973.54,-6.37),(1973.65,-7.73),(1973.75,-9.67),(1973.85,-11.6),
(1973.94,-11.8),(1974.01,-10.45),(1974.08,-8.12),(1974.17,-5.8),(1974.25,-4.24),(1974.32,-4.05),(1974.42,-3.57),(1974.53,-3.18),
(1974.63,-3.18),(1974.74,-3.47),(1974.84,-3.37),(1974.95,-2.98),(1975.02,-2.85),(1975.16,-3.86),(1975.26,-5.2),(1975.36,-6.57),
(1975.47,-7.73),(1975.57,-8.5),(1975.68,-8.8),(1975.78,-9.0),(1975.92,-9.0),(1975.99,-7.73),(1976.07,-5.8),(1976.16,-3.28),
(1976.26,-1.14),(1976.36,0.4),(1976.44,1.57),(1976.51,2.34),(1976.65,2.73),(1976.75,3.02),(1976.89,3.08),(1977.01,2.93),
(1977.1,2.73),(1977.17,1.96),(1977.24,1.8),(1977.32,2.34),(1977.41,3.3),(1977.51,3.6),(1977.58,3.8),(1977.66,4.57),
(1977.74,5.64),(1977.82,6.45),(1977.93,6.32),(1978.0,5.45),(1978.07,3.5),(1978.16,0.6),(1978.24,-1.92),(1978.34,-2.79),
(1978.45,-2.7),(1978.57,-2.21),(1978.68,-1.14),(1978.78,-0.17),(1978.89,0.31),(1979.01,0.56),(1979.09,0.7),(1979.2,0.12),
(1979.3,-0.56),(1979.39,-0.76),(1979.49,0.02),(1979.56,0.99),(1979.64,1.96),(1979.74,2.44),(1979.84,2.64),(1979.93,2.54),
(1980.03,2.34),(1980.14,1.76),(1980.24,1.38),(1980.34,1.47),(1980.45,0.99),(1980.55,0.4),(1980.66,0.06),(1980.76,0.4),
(1980.86,0.6),(1980.97,0.31),(1981.07,0.21),(1981.18,-0.17),(1981.28,-1.14),(1981.39,-1.92),(1981.49,-1.53),(1981.59,-0.56),
(1981.7,-0.47),(1981.8,-0.66),(1981.91,-0.66),(1982.01,-0.17),(1982.09,0.8),(1982.17,1.96),(1982.27,4.28),(1982.38,6.22),
(1982.48,7.0),(1982.55,8.16),(1982.64,11.26),(1982.72,13.58),(1982.79,14.55),(1982.88,15.0),(1982.97,14.75),(1983.05,12.8),
(1983.14,10.3),(1983.21,7.77),(1983.28,5.45),(1983.36,2.73),(1983.45,0.6),(1983.52,-1.34),(1983.59,-2.7),(1983.7,-3.47),
(1983.8,-3.86),(1983.91,-3.47),(1984.01,-2.9),(1984.11,-2.11),(1984.2,-1.82),(1984.28,-2.11),(1984.35,-2.4),(1984.46,-1.92),
(1984.55,-1.63),(1984.66,-2.7),(1984.74,-4.05),(1984.82,-4.92),(1984.93,-5.12),(1985.03,-5.12),(1985.14,-4.83),(1985.24,-4.63),
(1985.35,-3.66),(1985.45,-2.79),(1985.57,-2.31),(1985.68,-2.07),(1985.78,-2.07),(1985.89,-2.21),(1985.99,-2.0),(1986.13,-1.82),
(1986.23,-1.82),(1986.33,-1.14),(1986.44,0.02),(1986.54,1.18),(1986.65,3.5),(1986.75,5.83),(1986.85,7.0),(1986.96,7.38),
(1987.06,7.8),(1987.16,7.38),(1987.27,7.03),(1987.38,7.48),(1987.51,7.87),(1987.61,7.58),(1987.72,6.8),(1987.82,5.83),
(1987.93,4.67),(1988.03,3.31),(1988.14,1.18),(1988.21,-0.76),(1988.28,-3.28),(1988.36,-5.4),(1988.47,-6.76),(1988.57,-7.73),
(1988.68,-8.9),(1988.8,-10.45),(1988.91,-9.86),(1989.01,-8.5),(1989.11,-7.15),(1989.22,-5.8),(1989.32,-4.24),(1989.43,-2.9),
(1989.53,-2.4),(1989.64,-1.92),(1989.72,-0.56),(1989.82,1.18),(1989.9,1.96),(1989.98,2.54),(1990.08,1.76),(1990.19,0.8),
(1990.29,0.56),(1990.4,0.8),(1990.5,1.14),(1990.6,1.41),(1990.71,1.18),(1990.81,1.2),(1990.92,1.57),(1991.02,2.34),
(1991.13,2.73),(1991.23,2.73),(1991.33,3.12),(1991.44,3.8),(1991.54,3.9),(1991.61,4.38),(1991.7,5.83),(1991.8,7.77),
(1991.9,10.03),(1992.01,10.2),(1992.1,9.32),(1992.21,7.38),(1992.31,5.45),(1992.4,3.12),(1992.48,1.57),(1992.58,0.8),
(1992.69,0.4),(1992.79,0.8),(1992.9,1.96),(1993.0,3.3),(1993.1,4.28),(1993.21,5.06),(1993.31,5.25),(1993.39,4.67),
(1993.49,3.5),(1993.6,2.93),(1993.7,2.34),(1993.81,1.57),(1993.92,1.18),(1994.02,1.28),(1994.13,1.57),(1994.23,1.96),
(1994.33,2.83),(1994.49,4.0),(1994.6,4.38),(1994.71,5.25),(1994.84,6.22),(1994.94,5.83),(1995.04,4.67),(1995.15,3.5),
(1995.25,1.96),(1995.35,0.8),(1995.44,-0.37),(1995.55,-1.34),(1995.65,-2.31),(1995.75,-2.9),(1995.89,-3.18),(1995.99,-2.98),
(1996.09,-2.5),(1996.2,-2.0),(1996.3,-1.72),(1996.44,-1.76),(1996.56,-1.92),(1996.67,-2.0),(1996.75,-2.21),(1996.87,-2.31),
(1996.96,-1.72),(1997.03,-0.76),(1997.1,0.8),(1997.19,3.12),(1997.27,5.45),(1997.38,7.58),(1997.48,9.9),(1997.58,11.26),
(1997.69,12.03),(1997.79,12.8),(1997.9,13.74),(1997.97,13.3),(1998.07,11.26),(1998.15,7.38),(1998.21,3.5),(1998.28,0.02),
(1998.35,-2.31),(1998.49,-4.24),(1998.59,-5.02),(1998.7,-6.18),(1998.77,-7.15),(1998.85,-7.73),(1998.94,-7.64),(1999.01,-7.15),
(1999.08,-6.18),(1999.17,-4.63),(1999.27,-3.66),(1999.4,-3.51),(1999.5,-3.86),(1999.6,-4.24),(1999.69,-5.4),(1999.79,-6.76),
(1999.88,-7.73),(2000.0,-7.93),(2000.1,-6.96),(2000.19,-5.02),(2000.26,-3.47),(2000.36,-2.7),(2000.47,-2.66),(2000.57,-3.08),
(2000.68,-4.05),(2000.78,-5.02),(2000.89,-5.17),(2000.99,-4.44),(2001.06,-3.08),(2001.15,-1.53),(2001.25,-0.56),(2001.35,0.12),
(2001.46,0.21),(2001.56,-0.17),(2001.67,-0.85),(2001.77,-1.14),(2001.88,-0.95),(2001.98,-0.37),(2002.08,0.6),(2002.19,1.57),
(2002.29,2.73),(2002.4,3.7),(2002.5,4.38),(2002.6,4.57),(2002.69,5.45),(2002.76,6.22),(2002.83,6.8),(2002.92,6.03),
(2003.0,4.48),(2003.1,3.12),(2003.18,1.57),(2003.25,0.4),(2003.33,-0.08),(2003.42,0.02),(2003.52,0.6),(2003.63,0.99),
(2003.73,1.47),(2003.83,1.6),(2003.94,1.47),(2004.04,0.99),(2004.15,0.76),(2004.25,0.99),(2004.32,1.76),(2004.43,2.73),
(2004.53,3.3),(2004.64,3.6),(2004.74,3.8),(2004.84,4.28),(2004.95,4.38),(2005.05,3.9),(2005.16,3.12),(2005.26,2.34),
(2005.36,1.38),(2005.47,0.21),(2005.57,-0.56),(2005.68,-1.14),(2005.78,-2.31),(2005.89,-3.86),(2005.99,-4.4),(2006.09,-4.05),
(2006.17,-2.7),(2006.25,-0.95),(2006.33,0.99),(2006.44,2.34),(2006.54,3.12),(2006.65,3.9),(2006.75,4.57),(2006.85,4.9),
(2006.96,3.5),(2007.06,1.57),(2007.17,0.21),(2007.27,-0.37),(2007.4,-0.95),(2007.5,-1.92),(2007.6,-3.47),(2007.71,-5.6),
(2007.81,-7.73),(2007.9,-9.4),(2007.99,-9.09),(2008.08,-7.73),(2008.17,-5.8),(2008.25,-3.28),(2008.34,-2.21),(2008.4,-1.63),
(2008.49,-1.57),(2008.56,-1.92),(2008.65,-2.89),(2008.74,-4.05),(2008.84,-4.83),(2008.96,-4.73),(2009.04,-3.66),(2009.13,-2.31),
(2009.22,-0.37),(2009.3,1.57),(2009.39,2.54),(2009.48,3.12),(2009.56,3.7),(2009.66,4.57),(2009.75,6.22),(2009.83,7.87),
(2009.89,8.26),(2009.98,7.38),(2010.07,5.83),(2010.16,3.5),(2010.25,0.6),(2010.33,-2.31),(2010.42,-5.21),(2010.49,-7.15),
(2010.58,-8.31),(2010.67,-9.09),(2010.75,-9.67),(2010.84,-10.25),(2010.91,-10.29),(2011.0,-9.48),(2011.06,-8.12),(2011.12,-6.18),
(2011.19,-4.24),(2011.28,-2.31),(2011.37,-1.76),(2011.46,-2.31),(2011.54,-3.47),(2011.63,-4.83),(2011.74,-5.9),(2011.82,-6.18),
(2011.89,-5.4),(2011.96,-3.86),(2012.02,-2.7),(2012.11,-1.72),(2012.2,-0.76),(2012.29,0.4),(2012.37,1.38),(2012.49,2.3),
(2012.58,2.25),(2012.67,1.86),(2012.77,1.38),(2012.86,0.4),(2012.95,-0.37),(2013.02,-1.34),(2013.11,-1.49),(2013.21,-1.63),
(2013.32,-1.76),(2013.39,-1.88),(2013.47,-1.57),(2013.58,-1.14),(2013.69,-1.05),(2013.81,-1.1),(2013.91,-1.24),(2014.02,-0.95),
(2014.13,0.02),(2014.22,1.18),(2014.31,2.25),(2014.39,2.54),(2014.51,2.64),(2014.6,2.73),(2014.68,3.31),(2014.77,4.22),
(2014.83,4.28),(2014.89,4.25),(2014.96,3.93),(2015.05,3.93),(2015.14,4.38),(2015.23,5.25),(2015.3,6.61),(2015.39,8.74),
(2015.49,9.9),(2015.56,10.77),(2015.65,11.26),(2015.74,11.74),(2015.82,12.8),(2015.91,13.35),(2015.97,12.71),(2016.04,11.26),
(2016.11,8.74),(2016.18,5.45),(2016.26,2.54),(2016.35,0.4),(2016.41,-0.95),(2016.5,-1.92),(2016.59,-2.4),(2016.7,-2.6),
(2016.81,-2.4),(2016.89,-1.72),(2016.98,-0.56),(2017.07,0.21),(2017.16,0.8),(2017.25,1.22),(2017.33,1.34),(2017.42,0.6),
(2017.49,-0.37),(2017.56,-1.05),(2017.61,-0.37),(2017.67,0.0),(2018.56,0.0),
]

model_year = [p[0] for p in model_pts]
model_val = [p[1] for p in model_pts]
enso_year = [p[0] for p in enso_pts]
enso_val = [p[1] for p in enso_pts]

x_ticks = [1880, 1900, 1920, 1940, 1960, 1980, 2000, 2020]
y_ticks = [-15, -10, -5, 0, 5, 10, 15]

TITLE = ("LTE analysis from model fit based on lunar range <b>R</b>, ascension "
         "<b>alpha</b>, declination <b>delta</b>")
SUBTITLE = ('from algorithm in Na (2020) "Prediction of Earth tide" adapted from '
            'Meeus (1998) "Astronomical Algorithms"')

# ---- figure geometry ----
W, H = 5707, 944
L, R, T, B = 179, 210, 49, 161
PW, PH = W - L - R, H - T - B
FONT = "Lato"
TXT = "#595959"

def px_x(px):
    return (px - L) / PW

def px_y(py):
    return (H - B - py) / PH

fig = go.Figure()
fig.add_trace(go.Scatter(x=model_year, y=model_val, mode="lines", name="Model",
                         line=dict(color="#FF0000", width=2.5), legend="legend"))
fig.add_trace(go.Scatter(x=enso_year, y=enso_val, mode="lines", name="ENSO NINO3.4",
                         line=dict(color="#00B0F0", width=2.5), legend="legend2"))

leg_common = dict(orientation="h", xanchor="left", yanchor="middle", y=px_y(116),
                  font=dict(family=FONT, size=46, color=TXT), bgcolor="rgba(0,0,0,0)",
                  itemwidth=40)

fig.update_layout(
    width=W, height=H,
    margin=dict(l=L, r=R, t=T, b=B, pad=0),
    paper_bgcolor="#E2EFDA", plot_bgcolor="#FFFFFF",
    font=dict(family=FONT, color=TXT, size=43),
    showlegend=True,
    legend=dict(x=px_x(2640), **leg_common),
    legend2=dict(x=px_x(2886), **leg_common),
    xaxis=dict(range=[1880, 2020], tickmode="array", tickvals=x_ticks,
               ticks="", showline=False, zeroline=False,
               showgrid=True, gridcolor="#BFBFBF", gridwidth=1.5, griddash="dot",
               minor=dict(dtick=4, tick0=1880, showgrid=True, gridcolor="#EEEEEE", gridwidth=1.5),
               tickfont=dict(family=FONT, size=43, color=TXT), ticklabelstandoff=26,
               title=dict(text="Year", font=dict(family=FONT, size=43, color=TXT), standoff=30)),
    yaxis=dict(range=[-15, 15], tickmode="array", tickvals=y_ticks,
               ticks="", showline=True, linecolor="#D0D0D0", linewidth=1.5,
               zeroline=True, zerolinecolor="#A6A6A6", zerolinewidth=1.5,
               showgrid=True, gridcolor="#D9D9D9", gridwidth=1.5, griddash="dot",
               tickfont=dict(family=FONT, size=43, color=TXT), ticklabelstandoff=51),
)

fig.add_annotation(text=TITLE, xref="paper", yref="paper", x=px_x(1440), y=px_y(111),
                   xanchor="center", yanchor="middle", showarrow=False,
                   font=dict(family=FONT, size=55, color=TXT))
fig.add_annotation(text=SUBTITLE, xref="paper", yref="paper", x=px_x(1440), y=px_y(170),
                   xanchor="center", yanchor="middle", showarrow=False,
                   font=dict(family=FONT, size=36, color=TXT))

# chart border
fig.add_shape(type="rect", xref="paper", yref="paper",
              x0=px_x(1), x1=px_x(W - 1), y0=px_y(H - 1), y1=px_y(1),
              line=dict(color="#D9D9D9", width=3), fillcolor="rgba(0,0,0,0)", layer="above")

# Remove the page margin and, if the browser viewport is narrower than the
# 5707 px design width, squeeze the whole figure horizontally so it fits.
FIT_SCRIPT = """
document.documentElement.style.margin='0';
document.body.style.margin='0';
document.documentElement.style.overflow='hidden';
document.body.style.overflow='hidden';
var gd = document.getElementById('{plot_id}');
var vw = window.innerWidth || document.documentElement.clientWidth;
var sx = Math.min(1, vw / 5707);
if (sx < 0.999) { gd.style.transformOrigin = '0 0'; gd.style.transform = 'scale(' + sx + ',1)'; }
"""

fig.write_html("out.html", post_script=FIT_SCRIPT,
               config={"displayModeBar": False, "staticPlot": True})
